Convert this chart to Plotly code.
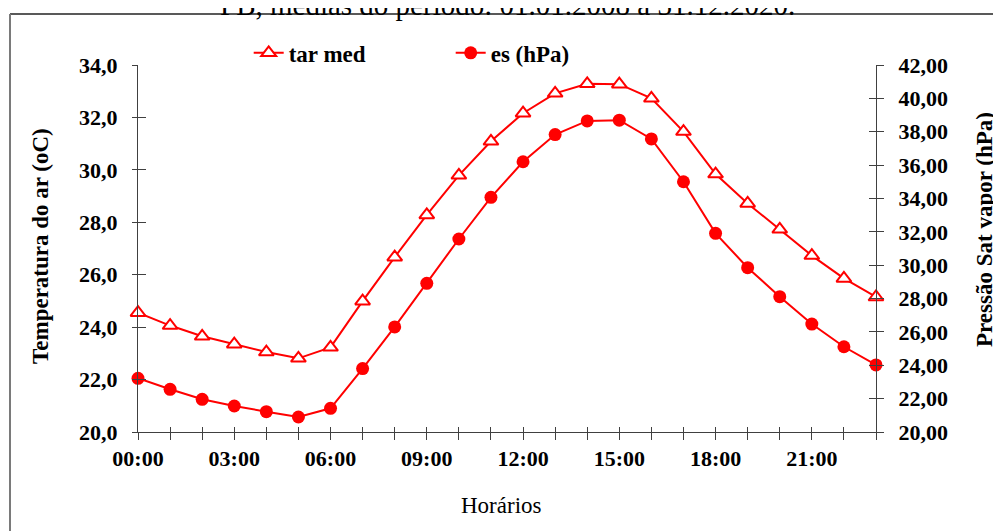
import plotly.graph_objects as go

hours = list(range(24))
hour_labels = ["00:00", "", "", "03:00", "", "", "06:00", "", "", "09:00", "", "",
               "12:00", "", "", "15:00", "", "", "18:00", "", "", "21:00", "", ""]
tar_med = [24.55, 24.06, 23.65, 23.35, 23.05, 22.81, 23.23, 24.99, 26.67, 28.28, 29.79, 31.09,
           32.16, 32.92, 33.28, 33.27, 32.73, 31.46, 29.84, 28.72, 27.73, 26.73, 25.86, 25.15]
es_hpa = [23.22, 22.56, 21.96, 21.56, 21.22, 20.90, 21.42, 23.80, 26.30, 28.91, 31.57, 34.07,
          36.20, 37.83, 38.65, 38.69, 37.57, 35.00, 31.91, 29.85, 28.11, 26.47, 25.11, 24.02]

title_text = "PB, médias do período: 01.01.2008 a 31.12.2020."
left_title = "Temperatura do ar (oC)"
right_title = "Pressão Sat vapor (hPa)"
x_title = "Horários"

RED = "#ff0000"
AX = "#404040"
FONT = "Times New Roman, Liberation Serif, serif"

fig = go.Figure()
fig.add_trace(go.Scatter(
    x=hours, y=tar_med, name="tar med", mode="lines+markers",
    line=dict(color=RED, width=2),
    marker=dict(symbol="triangle-up", size=13, color="white", line=dict(color=RED, width=2)),
    cliponaxis=False, xaxis="x", yaxis="y"))
fig.add_trace(go.Scatter(
    x=hours, y=es_hpa, name="es (hPa)", mode="lines+markers",
    line=dict(color=RED, width=2),
    marker=dict(symbol="circle", size=13, color=RED, line=dict(width=0)),
    cliponaxis=False, xaxis="x", yaxis="y2"))
# invisible traces to carry the inner tick marks
fig.add_trace(go.Scatter(x=hours, y=tar_med, mode="none", showlegend=False,
                         hoverinfo="skip", xaxis="x2", yaxis="y3"))
fig.add_trace(go.Scatter(x=hours, y=es_hpa, mode="none", showlegend=False,
                         hoverinfo="skip", xaxis="x2", yaxis="y4"))

tickfont = dict(family=FONT, size=22, color="black", weight="bold")

fig.update_layout(
    width=993, height=523,
    margin=dict(l=130, r=125, t=57, b=99),
    paper_bgcolor="white", plot_bgcolor="white",
    separators=",.",
    showlegend=True,
    legend=dict(orientation="h", x=0.150, y=1.033, xanchor="left", yanchor="middle",
                font=dict(family=FONT, size=23, color="black", weight="bold"),
                bgcolor="rgba(0,0,0,0)", entrywidth=157, entrywidthmode="pixels",
                itemwidth=30),
    xaxis=dict(range=[0, 23], tickmode="array", tickvals=hours, ticktext=hour_labels,
               ticks="outside", ticklen=7, tickcolor=AX, tickwidth=1,
               showline=True, linecolor=AX, linewidth=1, showgrid=False, zeroline=False,
               tickfont=tickfont, anchor="y"),
    xaxis2=dict(range=[0, 23], overlaying="x", tickmode="array", tickvals=hours,
                ticks="inside", ticklen=5, tickcolor=AX, showticklabels=False,
                showline=False, showgrid=False, zeroline=False, anchor="y"),
    yaxis=dict(range=[20, 34], dtick=2, tick0=20, tickformat=".1f",
               ticks="outside", ticklen=5, tickcolor=AX, tickwidth=1,
               showline=True, linecolor=AX, linewidth=1, showgrid=False, zeroline=False,
               tickfont=tickfont, ticklabelstandoff=10),
    yaxis2=dict(range=[20, 42], dtick=2, tick0=20, tickformat=".2f", overlaying="y", side="right",
                ticks="outside", ticklen=7, tickcolor=AX, tickwidth=1,
                showline=True, linecolor=AX, linewidth=1, showgrid=False, zeroline=False,
                tickfont=tickfont, ticklabelstandoff=10, anchor="x"),
    yaxis3=dict(range=[20, 34], dtick=2, tick0=20, overlaying="y", side="left",
                ticks="inside", ticklen=8, tickcolor=AX, showticklabels=False,
                showline=False, showgrid=False, zeroline=False, anchor="x"),
    yaxis4=dict(range=[20, 42], dtick=2, tick0=20, overlaying="y", side="right",
                ticks="inside", ticklen=7, tickcolor=AX, showticklabels=False,
                showline=False, showgrid=False, zeroline=False, anchor="x"),
    annotations=[
        dict(text=title_text, xref="paper", yref="paper", x=0.5007, y=1.114,
             xanchor="center", yanchor="bottom", showarrow=False,
             font=dict(family=FONT, size=29, color="black")),
        dict(text=left_title, xref="paper", yref="paper", x=-0.1314, y=0.507,
             xanchor="center", yanchor="middle", textangle=-90, showarrow=False,
             font=dict(family=FONT, size=23, color="black", weight="bold")),
        dict(text=right_title, xref="paper", yref="paper", x=1.1463, y=0.553,
             xanchor="center", yanchor="middle", textangle=-90, showarrow=False,
             font=dict(family=FONT, size=23, color="black", weight="bold")),
        dict(text=x_title, xref="paper", yref="paper", x=0.4919, y=-0.199,
             xanchor="center", yanchor="middle", showarrow=False,
             font=dict(family=FONT, size=23, color="black")),
    ],
    shapes=[
        dict(type="line", xref="paper", yref="paper",
             x0=(10 - 138) / 738, x1=(1010 - 138) / 738,
             y0=(432 - 14) / 367, y1=(432 - 14) / 367,
             line=dict(color="#222222", width=1.5)),
        dict(type="line", xref="paper", yref="paper",
             x0=(10 - 138) / 738, x1=(10 - 138) / 738,
             y0=(432 - 14) / 367, y1=(432 - 560) / 367,
             line=dict(color="#7a7a7a", width=2)),
    ],
)

fig.write_html("out.html")
